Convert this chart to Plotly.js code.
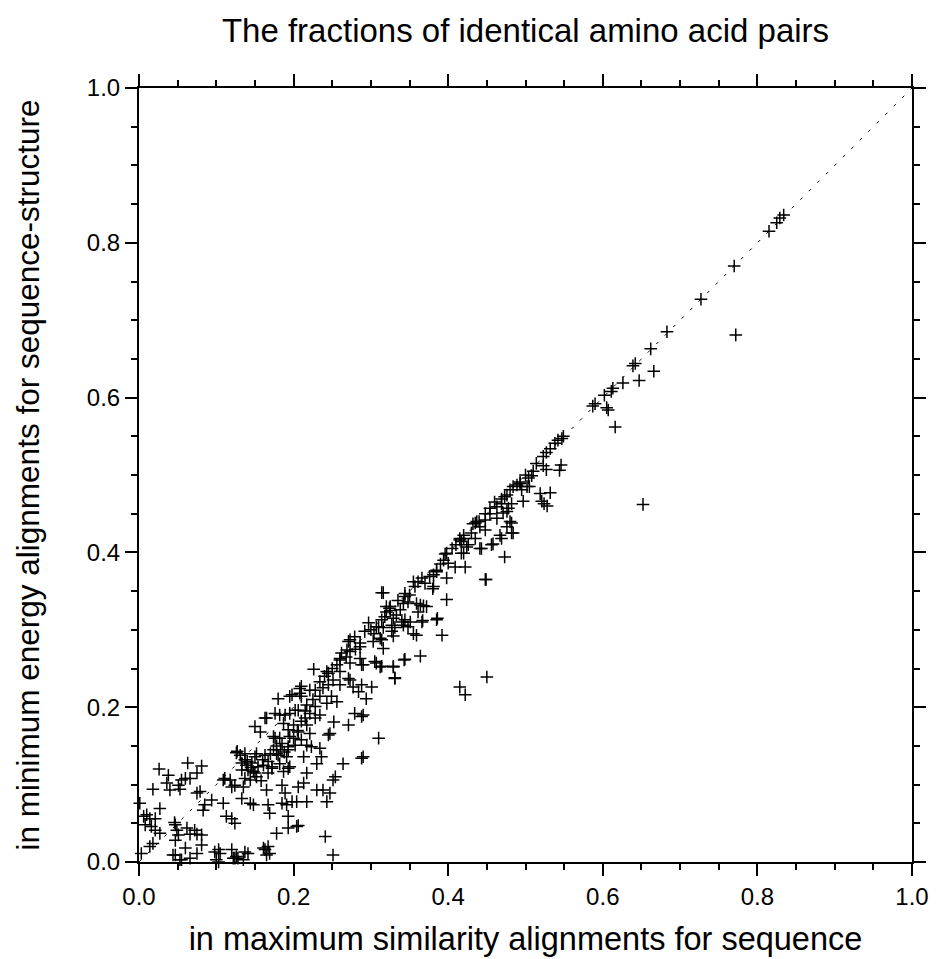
<!DOCTYPE html>
<html>
<head>
<meta charset="utf-8">
<script src="https://cdn.plot.ly/plotly-3.0.1.min.js"></script>
<style>html,body{margin:0;padding:0;background:#fff;}#chart{width:937px;height:959px;}</style>
</head>
<body>
<div id="chart"></div>
<script>
// Fraction of identical amino acid pairs: maximum similarity (x) vs minimum energy (y)
const seqX = [
0.834,0.829,0.825,0.815,0.770,0.727,0.683,0.772,0.662,
0.642,0.639,0.666,0.647,0.626,0.613,0.611,0.602,0.590,0.587,0.605,0.607,0.616,0.652,
0.549,0.547,0.542,0.538,0.532,0.527,0.523,0.514,0.523,0.546,0.544,0.527,0.508,0.504,0.493,0.489,0.484,0.480,0.495,0.505,0.519,0.532,0.521,0.528,0.497,0.473,0.469,0.482,0.476,0.471,0.482,0.476,0.484,0.469,
0.493,0.502,0.524,0.476,0.469,0.463,0.478,0.454,0.448,0.463,0.480,0.435,0.441,0.482,0.467,0.420,0.415,
0.454,0.448,0.437,0.432,0.448,0.458,0.443,0.435,0.420,0.415,0.424,0.420,0.405,0.398,0.394,0.400,0.409,0.422,0.385,0.381,0.376,0.398,0.366,0.361,0.357,0.381,0.448,0.314,0.344,0.348,0.359,0.368,0.398,0.361,0.325,0.320,0.333,0.340,0.351,0.385,0.366,0.314,0.297,0.327,0.307,
0.417,0.426,0.441,0.456,0.473,0.417,0.396,0.385,0.449,0.355,0.380,0.316,0.344,0.364,0.372,0.325,0.338,0.318,0.329,0.344,0.367,0.386,0.316,0.331,0.348,0.355,0.359,0.329,0.392,0.314,0.316,0.364,0.344,0.329,0.314,0.331,0.450,0.415,0.422,
0.342,0.310,0.327,0.342,0.279,0.271,0.286,0.303,0.273,0.260,0.256,0.273,0.288,0.305,0.312,0.329,0.343,0.331,0.226,0.245,0.251,0.234,0.273,0.260,0.245,0.277,0.288,0.301,0.294,0.284,0.208,0.221,0.195,0.180,0.210,0.234,0.249,0.256,0.243,0.217,0.228,0.206,0.195,0.182,0.176,0.163,0.221,0.234,0.215,0.228,0.279,0.288,0.252,0.271,0.187,0.200,0.217,0.150,0.157,0.193,0.206,0.221,0.247,0.245,0.174,0.182,0.195,0.210,0.310,0.185,0.193,0.202,0.217,0.223,0.234,0.174,0.178,0.163,0.152,0.137,0.131,0.191,0.213,0.236,0.288,0.167,0.182,0.230,0.264,0.139,0.154,0.172,0.195,0.133,0.148,0.187,0.217,0.254,
0.208,0.189,0.202,0.165,0.176,0.193,0.127,0.150,0.180,0.137,0.133,0.146,0.161,0.172,0.193,0.141,0.150,0.167,0.111,0.118,0.124,0.137,0.135,0.144,0.165,0.185,0.189,0.206,0.133,0.144,0.148,0.167,0.185,0.198,0.169,0.193,0.206,0.178,0.109,0.094,0.085,0.083,0.113,0.120,0.124,0.120,0.124,0.128,0.135,0.137,0.141,0.163,0.167,0.169,0.098,0.105,0.103,0.060,0.066,0.055,0.047,0.075,0.081,0.081,0.075,0.066,0.062,0.049,0.047,0.047,0.051,0.072,0.014,0.003,0.018,0.027,0.021,0.016,0.008,0.006,0.010,0.014,0.021,0.001,0.018,0.027,0.040,0.036,0.038,0.026,0.051,0.053,0.055,0.060,0.063,0.075,0.081,0.075,0.079,0.046,0.066,0.109,0.120,
0.324,0.273,0.312,0.286,0.269,0.260,0.286,0.290,0.307,0.210,0.198,0.243,0.260,0.271,0.290,0.290,0.126,
0.251,0.238,0.243,0.230,0.247,0.213,0.217,0.204,0.191,0.193,0.204,0.241,0.251,0.161,0.165,0.126,0.122,0.103,0.100,0.053,0.044,
0.140,0.145,0.152,0.158,0.160,0.170,0.178,0.183,0.188,0.200,0.205,0.210,0.215,0.225,0.228,0.238,0.240,0.250,0.262,0.268,0.280,0.292,0.300,0.304,0.320,0.335,0.350,0.370,0.390,0.410,0.430,0.440,0.460,0.500,0.510
];
const energyY = [
0.836,0.832,0.826,0.815,0.770,0.727,0.685,0.681,0.663,
0.644,0.641,0.634,0.622,0.619,0.612,0.608,0.603,0.592,0.589,0.587,0.584,0.562,0.462,
0.550,0.547,0.545,0.541,0.534,0.529,0.524,0.515,0.512,0.513,0.506,0.507,0.499,0.496,0.491,0.487,0.485,0.481,0.481,0.485,0.476,0.477,0.466,0.460,0.466,0.472,0.463,0.463,0.453,0.451,0.438,0.433,0.425,0.418,
0.489,0.485,0.463,0.474,0.469,0.459,0.457,0.450,0.442,0.444,0.440,0.438,0.433,0.425,0.422,0.422,0.418,
0.457,0.450,0.440,0.437,0.429,0.411,0.405,0.418,0.418,0.416,0.407,0.399,0.405,0.399,0.390,0.386,0.381,0.381,0.377,0.371,0.369,0.367,0.367,0.362,0.356,0.356,0.365,0.348,0.343,0.336,0.334,0.331,0.339,0.323,0.330,0.323,0.319,0.310,0.310,0.313,0.310,0.313,0.309,0.306,0.304,
0.414,0.410,0.405,0.410,0.394,0.399,0.398,0.375,0.365,0.362,0.353,0.348,0.347,0.332,0.330,0.325,0.326,0.317,0.315,0.313,0.312,0.315,0.303,0.303,0.304,0.295,0.293,0.292,0.293,0.287,0.276,0.266,0.262,0.253,0.253,0.238,0.239,0.226,0.216,
0.334,0.304,0.298,0.306,0.291,0.285,0.283,0.285,0.272,0.261,0.255,0.257,0.255,0.259,0.252,0.252,0.261,0.237,0.249,0.244,0.235,0.233,0.235,0.229,0.229,0.226,0.229,0.226,0.211,0.220,0.224,0.222,0.214,0.211,0.214,0.214,0.214,0.207,0.205,0.203,0.201,0.196,0.192,0.190,0.192,0.186,0.192,0.190,0.186,0.186,0.192,0.188,0.181,0.177,0.179,0.177,0.177,0.175,0.168,0.171,0.168,0.166,0.166,0.164,0.162,0.160,0.162,0.158,0.160,0.153,0.149,0.151,0.151,0.149,0.147,0.145,0.140,0.138,0.140,0.140,0.138,0.136,0.136,0.136,0.134,0.130,0.127,0.127,0.127,0.125,0.123,0.121,0.123,0.119,0.117,0.117,0.115,0.110,
0.218,0.190,0.196,0.186,0.160,0.145,0.143,0.136,0.138,0.132,0.128,0.128,0.125,0.123,0.121,0.119,0.115,0.115,0.108,0.106,0.099,0.108,0.097,0.106,0.093,0.099,0.089,0.097,0.082,0.076,0.074,0.074,0.076,0.078,0.063,0.059,0.047,0.037,0.076,0.080,0.074,0.067,0.059,0.056,0.050,0.016,0.005,0.005,0.003,0.013,0.011,0.016,0.020,0.011,0.013,0.011,0.000,0.018,0.005,0.003,0.009,0.011,0.022,0.035,0.036,0.036,0.044,0.041,0.048,0.028,0.035,0.041,0.020,0.011,0.024,0.037,0.041,0.046,0.048,0.059,0.061,0.056,0.056,0.076,0.094,0.069,0.093,0.102,0.112,0.120,0.099,0.094,0.106,0.108,0.128,0.115,0.124,0.089,0.091,0.051,0.108,0.106,0.097,
0.328,0.287,0.289,0.278,0.274,0.263,0.263,0.255,0.257,0.227,0.216,0.246,0.246,0.237,0.190,0.136,0.141,
0.106,0.093,0.078,0.093,0.089,0.102,0.078,0.078,0.074,0.044,0.046,0.033,0.009,0.018,0.009,0.007,0.005,0.016,0.003,0.003,0.009,
0.130,0.122,0.110,0.105,0.132,0.140,0.150,0.145,0.142,0.160,0.170,0.182,0.195,0.210,0.222,0.225,0.240,0.250,0.270,0.265,0.275,0.298,0.300,0.295,0.330,0.338,0.345,0.360,0.385,0.410,0.425,0.440,0.465,0.500,0.505
];
const diagonal = [0, 1];
const tickValues = [0, 0.2, 0.4, 0.6, 0.8, 1.0];
const tickLabels = ['0.0', '0.2', '0.4', '0.6', '0.8', '1.0'];

const titleText = 'The fractions of identical amino acid pairs';
const xTitle = 'in maximum similarity alignments for sequence';
const yTitle = 'in minimum energy alignments for sequence-structure';

const FONT = 'Liberation Sans, Arial, Helvetica, sans-serif';

const traces = [
  {
    x: diagonal, y: diagonal, type: 'scatter', mode: 'lines',
    line: {color: 'black', width: 1, dash: '3px,9px'},
    hoverinfo: 'skip', showlegend: false
  },
  {
    x: seqX, y: energyY, type: 'scatter', mode: 'markers',
    marker: {symbol: 'cross-thin-open', size: 9, color: 'black', line: {color: 'black', width: 1.5}},
    cliponaxis: false, showlegend: false
  }
];

function axis(titleText, standoff, titleSize) {
  return {
    range: [0, 1],
    tickvals: tickValues, ticktext: tickLabels,
    ticks: 'outside', ticklen: 12, tickwidth: 2, tickcolor: 'black',
    minor: {dtick: 0.05, tick0: 0, ticks: 'outside', ticklen: 6, tickwidth: 2, tickcolor: 'black', showgrid: false},
    showline: true, linewidth: 2, linecolor: 'black', mirror: 'ticks',
    showgrid: false, zeroline: false,
    tickfont: {family: FONT, size: 24, color: 'black'},
    title: {text: titleText, font: {family: FONT, size: titleSize, color: 'black'}, standoff: standoff},
    automargin: false, fixedrange: true
  };
}

const layout = {
  width: 937, height: 959,
  margin: {l: 139, r: 25, t: 88, b: 97, pad: 0},
  paper_bgcolor: 'white', plot_bgcolor: 'white',
  title: {text: titleText, font: {family: FONT, size: 33, color: 'black'},
          x: 0.5, xref: 'paper', xanchor: 'center', y: 1 - 30 / 959, yref: 'container', yanchor: 'middle'},
  xaxis: axis(xTitle, 18, 32.5),
  yaxis: axis(yTitle, 38, 31.5),
  showlegend: false
};

Plotly.newPlot('chart', traces, layout, {staticPlot: true, displayModeBar: false});
</script>
</body>
</html>
